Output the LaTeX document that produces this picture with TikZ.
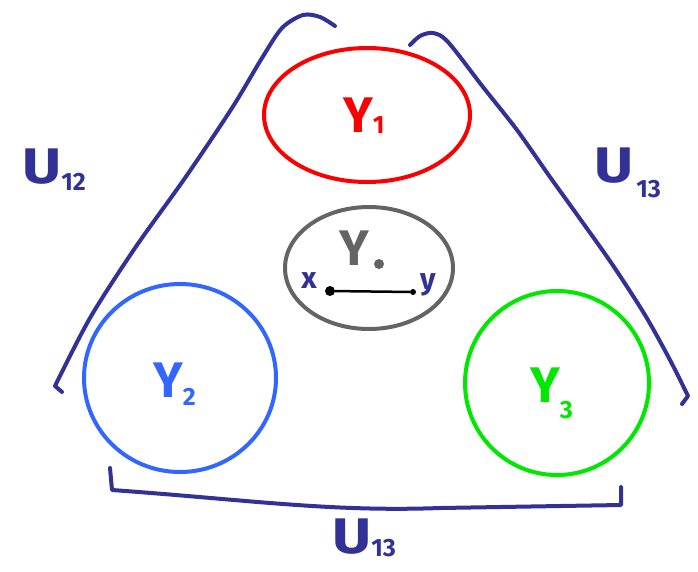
\documentclass[tikz,border=0pt]{standalone}
\usepackage{fontspec}
\setmainfont{Fira Sans}
\usetikzlibrary{shapes.geometric}
\definecolor{navy}{RGB}{50,50,150}
\definecolor{ured}{RGB}{250,0,0}
\definecolor{ublue}{RGB}{51,102,255}
\definecolor{ugreen}{RGB}{0,232,0}
\definecolor{ugray}{RGB}{100,100,100}
\newcommand\hlab[3]{#1\raisebox{-#3pt}{\fontsize{25}{25}\selectfont #2}}
\newcommand\wideU{\scalebox{1.2}[1]{U}}
\tikzset{
  region/.style={ellipse, draw, line width=4pt, inner sep=0pt},
  bracket/.style={draw=navy, line width=4pt, line cap=round, line join=round},
  biglab/.style={anchor=base west, inner sep=0pt, font=\fontsize{50}{50}\selectfont\bfseries},
  smalllab/.style={inner sep=0pt, text=navy, font=\fontsize{30}{30}\selectfont\bfseries},
  pt/.style={circle, fill, inner sep=0pt}
}
\begin{document}
\begin{tikzpicture}[x=1pt,y=-1pt]
\useasboundingbox (0,0) rectangle (698,571);
% regions
\node[region, draw=ured, minimum width=206pt, minimum height=134pt] (Y1) at (367,115) {};
\node[region, draw=ugray, minimum width=168pt, minimum height=122pt] (Y0) at (369,268) {};
\node[region, draw=ublue, minimum width=192pt, minimum height=188pt] (Y2) at (180,378) {};
\node[region, draw=ugreen, minimum width=184pt, minimum height=184pt] (Y3) at (557,383) {};
% labels
\node[biglab, text=ured] (l1) at (343,132) {\hlab{Y}{1}{1}};
\node[biglab, text=ublue] (l2) at (153,397) {\hlab{Y}{2}{8}};
\node[biglab, text=ugreen] (l3) at (530,402) {\hlab{Y}{3}{16}};
\node[biglab, text=ugray] (l0) at (339,265) {Y};
\node[pt, fill=ugray, minimum size=10pt] (d0) at (379,264) {};
% segment x -- y
\node[smalllab] (lx) at (309,281) {x};
\node[smalllab] (ly) at (428,285) {y};
\node[pt, fill=black, minimum size=10pt] (px) at (330,291) {};
\node[pt, fill=black, minimum size=6pt] (py) at (413,292) {};
\draw[line width=2.5pt] (px) -- (py);
% brackets
\draw[bracket] (62,392) -- (55,386)
  plot[smooth, tension=0.5] coordinates {(55,386) (90,318) (135,248) (185,178) (232,108) (262,58) (282,28) (303,15) (320,17) (335,26)};
\draw[bracket] (410,45)
  plot[smooth, tension=0.5] coordinates {(410,45) (420,36) (433,33) (448,42) (483,87) (517,130) (550,177) (578,216) (612,264) (645,315) (670,360) (688,396)} -- (682,404);
\draw[bracket] (110,468) -- (112,490) .. controls (250,500) and (330,512) .. (440,508) -- (621,505) -- (621,487);
% U labels
\node[biglab, text=navy] (u12) at (22,183) {\hlab{\wideU}{12}{7}};
\node[biglab, text=navy] (u13a) at (594,182) {\hlab{\wideU\kern3pt}{13}{15}};
\node[biglab, text=navy] (u13b) at (332,553) {\hlab{\wideU}{13}{3}};
\end{tikzpicture}
\end{document}
